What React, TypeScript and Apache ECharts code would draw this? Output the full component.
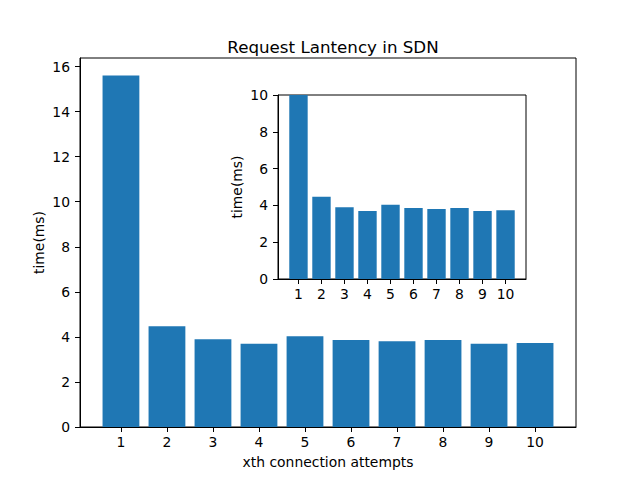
import React, { useEffect, useRef } from "react";
import * as echarts from "echarts";

const attempts = [1, 2, 3, 4, 5, 6, 7, 8, 9, 10];
const latency = [15.6, 4.47, 3.9, 3.69, 4.03, 3.86, 3.81, 3.86, 3.69, 3.73];
const mainYTicks = [0, 2, 4, 6, 8, 10, 12, 14, 16];
const insetYTicks = [0, 2, 4, 6, 8, 10];

const FONT = "DejaVu Sans";
const BLUE = "#1f77b4";

export default function App() {
  const ref = useRef<HTMLDivElement>(null);
  useEffect(() => {
    if (!ref.current) return;
    const chart = echarts.init(ref.current, null, { renderer: "svg" });
    const data = attempts.map((a, i) => [a, latency[i]]);
    const xAxisCommon = (gridIndex: number, name: string, nameGap: number) => ({
      type: "value" as const,
      gridIndex,
      min: 0.11,
      max: 10.89,
      name,
      nameLocation: "middle" as const,
      nameGap,
      nameMoveOverlap: false,
      nameTextStyle: { fontFamily: FONT, fontSize: 13.9, color: "#000" },
      axisLine: { show: true, lineStyle: { color: "#000", width: 1 } },
      axisTick: { show: true, length: 5, customValues: attempts, lineStyle: { color: "#000" } },
      axisLabel: { customValues: attempts, fontFamily: FONT, fontSize: 13.9, color: "#000", margin: 8 },
      splitLine: { show: false },
    });
    const yAxisCommon = (gridIndex: number, max: number, ticks: number[]) => ({
      type: "value" as const,
      gridIndex,
      min: 0,
      max,
      name: "time(ms)",
      nameLocation: "middle" as const,
      nameGap: 34,
      nameMoveOverlap: false,
      nameTextStyle: { fontFamily: FONT, fontSize: 13.9, color: "#000" },
      axisLine: { show: true, lineStyle: { color: "#000", width: 1 } },
      axisTick: { show: true, length: 5, customValues: ticks, lineStyle: { color: "#000" } },
      axisLabel: { customValues: ticks, fontFamily: FONT, fontSize: 13.9, color: "#000", margin: 10 },
      splitLine: { show: false },
    });
    chart.setOption({
      animation: false,
      backgroundColor: "#fff",
      title: {
        text: "Request Lantency in SDN",
        left: 328,
        top: 33,
        textAlign: "center",
        textStyle: { fontFamily: FONT, fontSize: 16.7, fontWeight: "normal", color: "#000" },
      },
      grid: [
        { left: 80, top: 58, width: 496, height: 369, show: true, borderColor: "#000", borderWidth: 1, backgroundColor: "#fff", containLabel: false },
        { left: 278, top: 95, width: 248, height: 184, show: true, borderColor: "#000", borderWidth: 1, backgroundColor: "#fff", containLabel: false, z: 5 },
      ],
      xAxis: [xAxisCommon(0, "xth connection attempts", 28), { ...xAxisCommon(1, "", 0), z: 6 }],
      yAxis: [yAxisCommon(0, 16.38, mainYTicks), { ...yAxisCommon(1, 10, insetYTicks), z: 6 }],
      series: [
        { type: "bar", xAxisIndex: 0, yAxisIndex: 0, data, barWidth: 36.8, itemStyle: { color: BLUE }, z: 2 },
        { type: "bar", xAxisIndex: 1, yAxisIndex: 1, data, barWidth: 18.4, itemStyle: { color: BLUE }, clip: true, z: 7 },
      ],
    });
    return () => chart.dispose();
  }, []);
  return <div ref={ref} style={{ position: "fixed", left: 0, top: 0, width: 640, height: 480 }} />;
}
